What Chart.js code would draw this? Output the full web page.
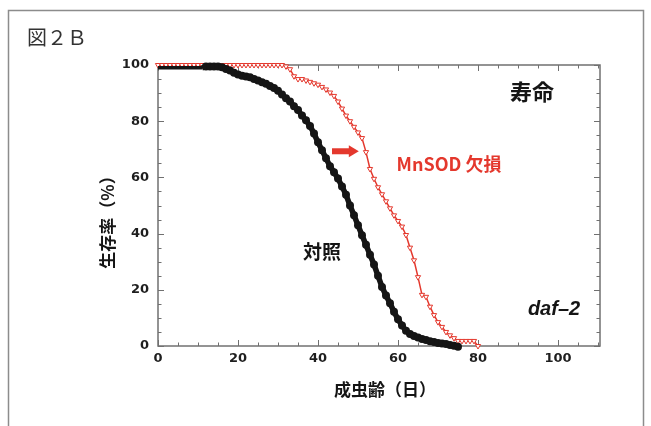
<!DOCTYPE html>
<html>
<head>
<meta charset="utf-8">
<script src="https://cdn.jsdelivr.net/npm/chart.js@4.4.1/dist/chart.umd.min.js"></script>
<style>
  html, body { margin: 0; padding: 0; background: #fff; }
</style>
</head>
<body>
<canvas id="survival-chart" width="651" height="426"></canvas>
<script>
// 対照 (control), black filled circles
const controlDays = [0, 11, 12, 13, 14, 15, 16, 17, 18, 19, 20, 21, 22, 23, 24, 25, 26, 27, 28, 29,
  30, 31, 32, 33, 34, 35, 36, 37, 38, 39, 40, 41, 42, 43, 44, 45, 46, 47, 48, 49,
  50, 51, 52, 53, 54, 55, 56, 57, 58, 59, 60, 61, 62, 63, 64, 65, 66, 67, 68, 69,
  70, 71, 72, 73, 74, 75]
const controlSurvival = [99, 99, 99.5, 99.5, 99.5, 99.5, 99.2, 98.6, 98, 97.2, 96.6, 96.2, 95.9, 95.6, 95, 94.5, 93.9, 93.3, 92.5, 91.8,
  90.8, 89.5, 88.2, 87, 85.3, 84, 82, 80.3, 78.3, 75.6, 72.5, 69.7, 66.8, 64, 61.8, 59.6, 56.8, 53.8, 50, 46.5,
  43, 39.4, 36, 32.5, 29, 25, 21, 18, 15.2, 12.2, 9.5, 7.3, 5.4, 4.3, 3.6, 3, 2.5, 2.1, 1.7, 1.4,
  1.1, 0.9, 0.7, 0.4, 0.1, -0.3]

// MnSOD 欠損, red open markers
const mnsodDays = [0, 1, 2, 3, 4, 5, 6, 7, 8, 9, 10, 11, 12, 13, 14, 15, 16, 17, 18, 19,
  20, 21, 22, 23, 24, 25, 26, 27, 28, 29, 30, 31, 32, 33, 34, 35, 36, 37, 38, 39,
  40, 41, 42, 43, 44, 45, 46, 47, 48, 49, 50, 51, 52, 53, 54, 55, 56, 57, 58, 59,
  60, 61, 62, 63, 64, 65, 66, 67, 68, 69, 70, 71, 72, 73, 74, 75, 76, 77, 78, 79, 80]
const mnsodSurvival = [100, 100, 100, 100, 100, 100, 100, 100, 100, 100, 100, 100, 100, 100, 100, 100, 100, 100, 100, 100,
  100, 100, 100, 100, 100, 100, 100, 100, 100, 100, 100, 100, 99.5, 98.5, 96, 95, 95, 94.5, 94, 93.5,
  93, 92.2, 91.3, 90.2, 89, 87, 84.5, 82, 80, 78, 76, 74, 69, 63, 59.5, 56.5, 54, 51.5, 49, 46.5,
  44.5, 42.5, 39.5, 35, 30.5, 24.5, 18.2, 17.5, 14, 11, 8.5, 6.8, 5, 3.8, 2.8, 1.8, 1.8, 1.8, 1.8, 1.8, 0]

const xLabels = [0, 20, 40, 60, 80, 100]
const yLabels = [0, 20, 40, 60, 80, 100]

const red = 'rgb(228, 56, 45)'
const ink = '#151515'

const toPoints = (xs, ys) => xs.map((x, i) => ({ x: x, y: ys[i] }))

const decor = {
  id: 'decor',
  beforeDraw(chart) {
    const c = chart.ctx
    c.save()
    c.fillStyle = '#fff'
    c.fillRect(0, 0, chart.width, chart.height)
    // outer frame of the figure
    c.strokeStyle = '#8c8c8c'
    c.lineWidth = 1.5
    c.beginPath()
    c.moveTo(8.5, 430)
    c.lineTo(8.5, 10.5)
    c.lineTo(643.5, 10.5)
    c.lineTo(643.5, 430)
    c.stroke()
    c.fillStyle = '#333'
    c.font = '20px "Noto Sans CJK JP"'
    c.textBaseline = 'middle'
    c.fillText('図２Ｂ', 27, 37)
    c.restore()
  },
  beforeDatasetsDraw(chart) {
    const c = chart.ctx
    const a = chart.chartArea
    const xs = chart.scales.x
    const ys = chart.scales.y
    c.save()
    c.strokeStyle = '#707070'
    c.lineWidth = 1.5
    c.strokeRect(a.left, a.top, a.right - a.left, a.bottom - a.top)
    c.lineWidth = 1
    c.beginPath()
    xs.ticks.forEach((t) => {
      const px = Math.round(xs.getPixelForValue(t.value)) + 0.5
      const len = t.value % 20 === 0 ? 6 : 3.5
      c.moveTo(px, a.bottom); c.lineTo(px, a.bottom - len)
      c.moveTo(px, a.top); c.lineTo(px, a.top + len)
    })
    ys.ticks.forEach((t) => {
      const py = Math.round(ys.getPixelForValue(t.value)) + 0.5
      const len = t.value % 20 === 0 ? 6 : 3.5
      c.moveTo(a.left, py); c.lineTo(a.left + len, py)
      c.moveTo(a.right, py); c.lineTo(a.right - len, py)
    })
    c.stroke()
    c.restore()
  },
  afterDraw(chart) {
    const c = chart.ctx
    const xs = chart.scales.x
    const ys = chart.scales.y
    const at = (x, y) => [xs.getPixelForValue(x), ys.getPixelForValue(y)]
    c.save()
    c.textAlign = 'center'
    c.textBaseline = 'middle'

    let p = at(93.5, 90.5)
    c.fillStyle = ink
    c.font = 'bold 22px "Noto Sans CJK JP"'
    c.fillText('寿命', p[0], p[1])

    p = at(41, 33.4)
    c.font = 'bold 19px "Noto Sans CJK JP"'
    c.fillText('対照', p[0], p[1])

    p = at(72.75, 64.6)
    c.fillStyle = red
    c.font = 'bold 18px "Noto Sans CJK JP"'
    c.fillText('MnSOD 欠損', p[0], p[1])

    p = at(99, 12.9)
    c.fillStyle = ink
    c.font = 'italic bold 20px "Liberation Sans"'
    c.fillText('daf–2', p[0], p[1])

    // axis titles
    c.font = 'bold 17px "Noto Sans CJK JP"'
    c.fillText('成虫齢（日）', 385, 390)
    c.save()
    c.translate(108, 218)
    c.rotate(-Math.PI / 2)
    c.fillText('生存率（%）', 0, 0)
    c.restore()

    // red arrow
    const s = at(43.5, 69.3)
    const e = at(50.2, 69.3)
    c.fillStyle = red
    c.fillRect(s[0], s[1] - 3, e[0] - s[0] - 9, 6)
    c.beginPath()
    c.moveTo(e[0] - 10, s[1] - 6)
    c.lineTo(e[0], s[1])
    c.lineTo(e[0] - 10, s[1] + 6)
    c.closePath()
    c.fill()
    c.restore()
  }
}

const ctx = document.getElementById('survival-chart').getContext('2d')

const chart = new Chart(ctx, {
  type: 'line',
  data: {
    datasets: [{
      label: '対照',
      data: toPoints(controlDays, controlSurvival),
      borderColor: ink,
      backgroundColor: ink,
      borderWidth: 5.5,
      // thin flat start, thick dotted band after
      segment: { borderWidth: (s) => s.p0DataIndex === 0 ? 3.5 : undefined },
      pointRadius: (c) => c.dataIndex < 2 ? 0 : 4,
      pointBorderWidth: 0,
      pointStyle: 'circle',
      clip: false
    }, {
      label: 'MnSOD 欠損',
      data: toPoints(mnsodDays, mnsodSurvival),
      borderColor: red,
      borderWidth: 1.5,
      pointStyle: 'triangle',
      rotation: 180,
      pointRadius: 3,
      pointBorderWidth: 1,
      pointBorderColor: red,
      pointBackgroundColor: '#fff',
      clip: false
    }]
  },
  options: {
    responsive: false,
    animation: false,
    devicePixelRatio: 1,
    layout: { padding: { left: 0, top: 65, right: 51, bottom: 0 } },
    plugins: {
      legend: { display: false },
      tooltip: { enabled: false }
    },
    scales: {
      x: {
        type: 'linear',
        min: 0,
        max: 110.5,
        grid: { display: false, drawTicks: false },
        border: { display: false },
        afterFit: (scale) => { scale.height = 80 },
        ticks: {
          stepSize: 5,
          autoSkip: false,
          maxRotation: 0,
          includeBounds: false,
          padding: 5,
          color: '#1e1e1e',
          font: { family: 'DejaVu Sans', weight: 'bold', size: 13 },
          callback: (v) => xLabels.includes(v) ? String(v) : ''
        }
      },
      y: {
        min: 0,
        max: 100,
        grid: { display: false, drawTicks: false },
        border: { display: false },
        afterFit: (scale) => { scale.width = 158 },
        ticks: {
          stepSize: 5,
          autoSkip: false,
          padding: 9,
          color: '#1e1e1e',
          font: { family: 'DejaVu Sans', weight: 'bold', size: 13 },
          callback: (v) => yLabels.includes(v) ? String(v) : ''
        }
      }
    }
  },
  plugins: [decor]
})
</script>
</body>
</html>
